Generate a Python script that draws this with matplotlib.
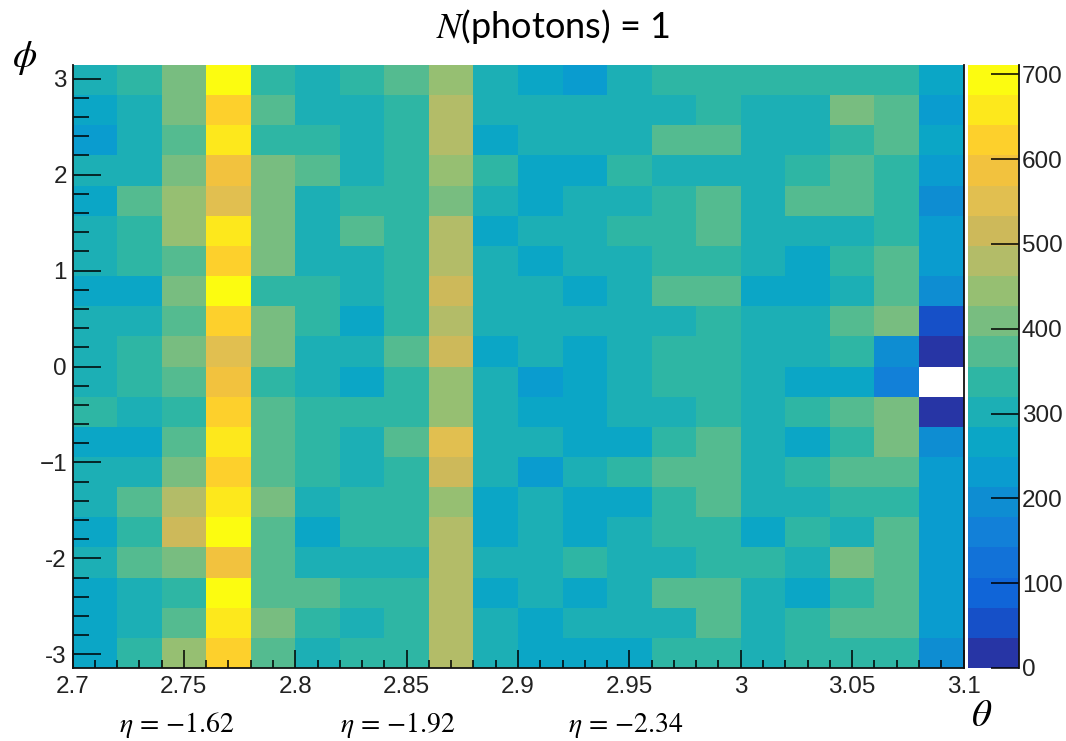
import numpy as np
import matplotlib
matplotlib.use("Agg")
import matplotlib.pyplot as plt
from matplotlib.colors import ListedColormap, BoundaryNorm
from matplotlib.ticker import MultipleLocator

plt.rcParams['font.family'] = ['Liberation Sans', 'DejaVu Sans']
plt.rcParams['mathtext.fontset'] = 'stix'

W, H = 1066, 741

theta_edges = [2.70, 2.72, 2.74, 2.76, 2.78, 2.80, 2.82, 2.84, 2.86, 2.88, 2.90,
               2.92, 2.94, 2.96, 2.98, 3.00, 3.02, 3.04, 3.06, 3.08, 3.10]
n_phi_bins = 20
z_max = 711

# counts per bin, first row is the top of the plot (phi close to +pi)
counts = [
    [302, 338, 409, 693, 338, 302, 338, 373, 444, 302, 267, 231, 302, 338, 338, 338, 338, 338, 338, 267],
    [267, 302, 409, 622, 373, 302, 302, 338, 480, 302, 302, 302, 302, 302, 338, 302, 302, 409, 373, 231],
    [231, 302, 373, 658, 338, 338, 302, 338, 480, 267, 302, 302, 302, 373, 373, 302, 302, 338, 373, 267],
    [302, 302, 409, 587, 409, 373, 302, 338, 444, 338, 267, 267, 338, 302, 302, 302, 338, 373, 338, 231],
    [267, 373, 444, 551, 409, 302, 338, 338, 409, 302, 267, 302, 302, 338, 373, 302, 373, 373, 338, 196],
    [302, 338, 444, 658, 409, 302, 373, 338, 480, 267, 302, 302, 338, 338, 373, 302, 302, 302, 338, 231],
    [302, 338, 373, 622, 409, 302, 302, 338, 480, 302, 267, 302, 302, 338, 338, 302, 267, 338, 373, 231],
    [267, 267, 409, 693, 338, 338, 302, 338, 516, 302, 302, 267, 302, 373, 373, 267, 267, 302, 373, 196],
    [302, 302, 373, 622, 409, 338, 267, 338, 480, 302, 302, 302, 302, 302, 338, 302, 302, 373, 409, 53],
    [302, 338, 409, 551, 409, 302, 302, 373, 516, 267, 302, 267, 302, 338, 338, 302, 302, 338, 196, 18],
    [302, 338, 373, 587, 338, 302, 267, 338, 444, 302, 231, 267, 302, 338, 338, 302, 267, 267, 160, np.nan],
    [338, 302, 338, 622, 373, 338, 338, 338, 444, 302, 267, 267, 302, 302, 338, 302, 338, 373, 409, 18],
    [267, 267, 373, 658, 373, 338, 302, 373, 551, 302, 302, 267, 267, 338, 373, 302, 267, 338, 409, 196],
    [302, 302, 409, 622, 373, 338, 302, 338, 516, 302, 231, 302, 338, 373, 373, 302, 338, 373, 373, 231],
    [302, 373, 480, 658, 409, 302, 338, 338, 444, 267, 302, 267, 267, 338, 373, 302, 302, 338, 338, 231],
    [267, 338, 516, 693, 373, 267, 338, 338, 480, 267, 302, 267, 302, 338, 338, 267, 338, 302, 373, 231],
    [302, 373, 409, 587, 373, 302, 302, 302, 480, 302, 302, 338, 302, 302, 338, 338, 302, 409, 373, 231],
    [267, 302, 338, 693, 373, 373, 338, 338, 480, 267, 302, 267, 302, 373, 373, 302, 267, 338, 373, 231],
    [267, 302, 373, 658, 409, 338, 302, 338, 480, 302, 267, 302, 302, 302, 373, 302, 338, 373, 373, 231],
    [267, 338, 444, 622, 373, 302, 338, 338, 480, 302, 267, 267, 267, 338, 338, 302, 338, 338, 338, 196],
]

palette = ['#2735a5', '#1650c8', '#1065d8', '#1272d8', '#1280d8', '#0e8dd2', '#0a9ccf',
           '#0ba6c6', '#1cafb5', '#2eb6a4', '#54bb90', '#78bd80', '#96bf72', '#b3bc68',
           '#cdb95a', '#e1bf50', '#f2c23e', '#fdd02c', '#fde81c', '#fcfc10']

x_tick_pos = [2.7, 2.75, 2.8, 2.85, 2.9, 2.95, 3.0, 3.05, 3.1]
x_tick_txt = ['2.7', '2.75', '2.8', '2.85', '2.9', '2.95', '3', '3.05', '3.1']
y_tick_pos = [-3, -2, -1, 0, 1, 2, 3]
y_tick_txt = ['-3', '-2', '\u22121', '0', '1', '2', '3']
z_ticks = [0, 100, 200, 300, 400, 500, 600, 700]
eta_labels = [r'$\eta\,=\,{-}1.62$', r'$\eta\,=\,{-}1.92$', r'$\eta\,=\,{-}2.34$']
eta_x_px = [177, 398, 626]


def box(left, top, right, bottom):
    return [left / W, 1 - bottom / H, (right - left) / W, (bottom - top) / H]


fig = plt.figure(figsize=(W / 100, H / 100), dpi=100)
ax = fig.add_axes(box(72.5, 65, 963.5, 668))
cax = fig.add_axes(box(967.5, 65, 1018.5, 668))

phi_edges = np.linspace(-np.pi, np.pi, n_phi_bins + 1)
cmap = ListedColormap(palette)
cmap.set_bad('white')
norm = BoundaryNorm(np.linspace(0, z_max, len(palette) + 1), len(palette))
mesh = ax.pcolormesh(theta_edges, phi_edges, np.array(counts, dtype=float)[::-1],
                     cmap=cmap, norm=norm, linewidth=0, rasterized=True)

ax.set_xlim(2.7, 3.1)
ax.set_ylim(-np.pi, np.pi)
ax.spines['top'].set_visible(False)
for side in ['left', 'bottom', 'right']:
    ax.spines[side].set_linewidth(1.3)
    ax.spines[side].set_color('#111111')

ax.set_xticks(x_tick_pos)
ax.set_xticklabels(x_tick_txt, fontsize=17.5, color='#222222')
ax.set_yticks(y_tick_pos)
ax.set_yticklabels(y_tick_txt, fontsize=17.5, color='#222222')
ax.xaxis.set_minor_locator(MultipleLocator(0.01))
ax.yaxis.set_minor_locator(MultipleLocator(0.2))
ax.tick_params(axis='x', which='major', direction='in', length=13, width=1.1, pad=6)
ax.tick_params(axis='x', which='minor', direction='in', length=6, width=1.1)
ax.tick_params(axis='y', which='major', direction='in', length=20, width=1.1, pad=4)
ax.tick_params(axis='y', which='minor', direction='in', length=11.5, width=1.1)

cb = fig.colorbar(mesh, cax=cax, spacing='proportional', ticks=z_ticks, drawedges=False)
cb.ax.minorticks_off()
cb.outline.set_visible(False)
cax.spines['right'].set_visible(True)
cax.spines['right'].set_linewidth(1.3)
cax.spines['right'].set_color('#111111')
cax.set_yticklabels([str(v) for v in z_ticks], fontsize=17.5, color='#222222')
cax.tick_params(axis='y', which='major', direction='in', length=20, width=1.1, pad=2.5)

fig.text(553 / W, 1 - 26 / H, '$N$(photons) = 1', fontsize=26, family='Lato', ha='center', va='center')
fig.text(25 / W, 1 - 58 / H, r'$\phi$', fontsize=28, ha='center', va='center')
fig.text(982 / W, 1 - 716 / H, r'$\theta$', fontsize=28, ha='center', va='center')
for label, x_px in zip(eta_labels, eta_x_px):
    fig.text(x_px / W, 1 - 725 / H, label, fontsize=20, ha='center', va='center')

fig.savefig('out.png', dpi=100)
